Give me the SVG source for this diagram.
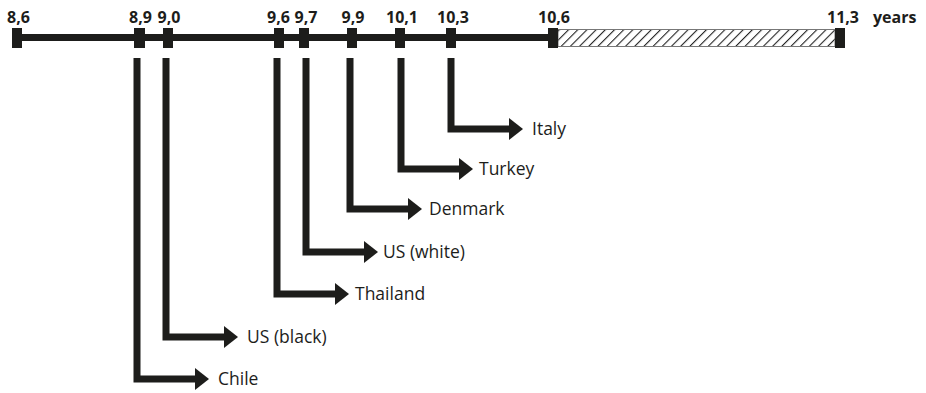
<svg xmlns="http://www.w3.org/2000/svg" width="926" height="393" viewBox="0 0 926 393">
  <style>
    .tick { fill: #1d1d1b; }
    .axis { stroke: #1d1d1b; stroke-width: 7; fill: none; }
    .conn { stroke: #1d1d1b; stroke-width: 7; fill: none; stroke-linejoin: miter; marker-end: url(#arr); }
    .val { font-family: "Open Sans", "DejaVu Sans", sans-serif; font-weight: bold; font-size: 16px; fill: #1d1d1b; text-anchor: middle; }
    .lbl { font-family: "Open Sans", "DejaVu Sans", sans-serif; font-size: 17.5px; fill: #1d1d1b; }
  </style>
  <defs>
    <marker id="arr" markerUnits="userSpaceOnUse" markerWidth="14" markerHeight="22" viewBox="0 0 14 22" refX="1" refY="11" orient="auto">
      <path d="M0,0 L14,11 L0,22 Z" fill="#1d1d1b"/>
    </marker>
    <pattern id="hatch" patternUnits="userSpaceOnUse" width="6.5" height="6.5" patternTransform="rotate(45)">
      <rect width="6.5" height="6.5" fill="#ffffff"/>
      <line x1="0" y1="0" x2="0" y2="6.5" stroke="#222" stroke-width="2.2"/>
    </pattern>
  </defs>

  <g id="timeline">
    <line class="axis" x1="17" y1="37.5" x2="553" y2="37.5"/>
    <rect x="558" y="29.5" width="277" height="17" fill="url(#hatch)" stroke="#777" stroke-width="1"/>
    <rect class="tick" x="12" y="28" width="10" height="20"/>
    <rect class="tick" x="134" y="28" width="11" height="20"/>
    <rect class="tick" x="163" y="28" width="10" height="20"/>
    <rect class="tick" x="274" y="28" width="10" height="20"/>
    <rect class="tick" x="299" y="28" width="10" height="20"/>
    <rect class="tick" x="347" y="28" width="10" height="20"/>
    <rect class="tick" x="395" y="28" width="10" height="20"/>
    <rect class="tick" x="446" y="28" width="10" height="20"/>
    <rect class="tick" x="548" y="28" width="10" height="20"/>
    <rect class="tick" x="835" y="28" width="10" height="20"/>
    <text class="val" x="18.5" y="23">8,6</text>
    <text class="val" x="140.5" y="23">8,9</text>
    <text class="val" x="169" y="23">9,0</text>
    <text class="val" x="278.5" y="23">9,6</text>
    <text class="val" x="306" y="23">9,7</text>
    <text class="val" x="353" y="23">9,9</text>
    <text class="val" x="402" y="23">10,1</text>
    <text class="val" x="453" y="23">10,3</text>
    <text class="val" x="554" y="23">10,6</text>
    <text class="val" x="843" y="23">11,3</text>
    <text class="val" x="873" y="23" style="text-anchor:start">years</text>
  </g>

  <g id="connectors">
    <path class="conn" d="M137,58 V379 H196"/>
    <path class="conn" d="M166,58 V337 H225"/>
    <path class="conn" d="M277,58 V294 H336"/>
    <path class="conn" d="M306,58 V252 H365"/>
    <path class="conn" d="M350,58 V209 H409"/>
    <path class="conn" d="M401,58 V169 H460"/>
    <path class="conn" d="M451,58 V129 H510"/>
  </g>

  <g id="chile"><text class="lbl" x="218" y="385">Chile</text></g>
  <g id="us-black"><text class="lbl" x="247" y="343">US (black)</text></g>
  <g id="thailand"><text class="lbl" x="355" y="300">Thailand</text></g>
  <g id="us-white"><text class="lbl" x="383" y="258">US (white)</text></g>
  <g id="denmark"><text class="lbl" x="429" y="215">Denmark</text></g>
  <g id="turkey"><text class="lbl" x="479" y="175">Turkey</text></g>
  <g id="italy"><text class="lbl" x="532" y="135">Italy</text></g>
</svg>
